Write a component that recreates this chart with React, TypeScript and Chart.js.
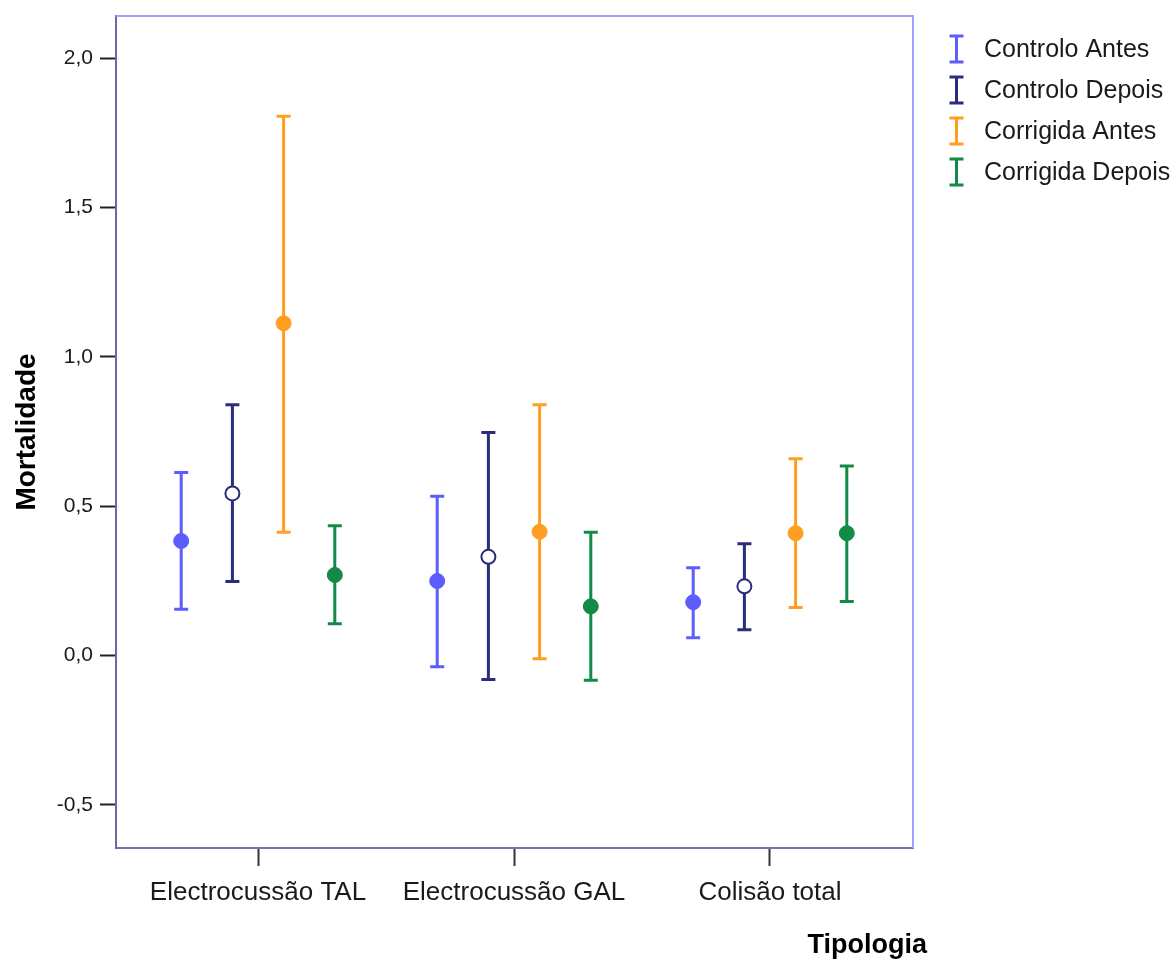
import { useEffect, useRef } from 'react';
import { Chart, registerables } from 'chart.js';

Chart.register(...registerables);

// Categories on the horizontal axis
const categories = ['Electrocussão TAL', 'Electrocussão GAL', 'Colisão total'];

// Series names and colours
const seriesNames = ['Controlo Antes', 'Controlo Depois', 'Corrigida Antes', 'Corrigida Depois'];
const seriesColors = ['#5c5cff', '#2c2c7c', '#ff9e20', '#138a45'];

// Means and 95% CI bounds per category
const controloAntesMean = [0.384, 0.25, 0.179];
const controloAntesLow = [0.155, -0.037, 0.06];
const controloAntesHigh = [0.613, 0.534, 0.294];

const controloDepoisMean = [0.543, 0.331, 0.232];
const controloDepoisLow = [0.248, -0.08, 0.087];
const controloDepoisHigh = [0.84, 0.747, 0.375];

const corrigidaAntesMean = [1.113, 0.415, 0.41];
const corrigidaAntesLow = [0.413, -0.01, 0.161];
const corrigidaAntesHigh = [1.806, 0.84, 0.659];

const corrigidaDepoisMean = [0.27, 0.165, 0.41];
const corrigidaDepoisLow = [0.107, -0.082, 0.181];
const corrigidaDepoisHigh = [0.435, 0.413, 0.635];

// Horizontal offset of each series inside a category cluster
const seriesOffsets = [-0.3, -0.1, 0.1, 0.3];

// Value axis ticks
const yTicks = [-0.5, 0, 0.5, 1, 1.5, 2];

const FONT = "'Liberation Sans', Arial, Helvetica, sans-serif";

const means = [controloAntesMean, controloDepoisMean, corrigidaAntesMean, corrigidaDepoisMean];
const lows = [controloAntesLow, controloDepoisLow, corrigidaAntesLow, corrigidaDepoisLow];
const highs = [controloAntesHigh, controloDepoisHigh, corrigidaAntesHigh, corrigidaDepoisHigh];

const errorBarPlugin = {
  id: 'errorBars',
  beforeDatasetsDraw(chart: any) {
    const { ctx, scales } = chart;
    const xs = scales.x;
    const ys = scales.y;
    ctx.save();
    chart.data.datasets.forEach((ds: any) => {
      ctx.strokeStyle = ds.borderColor;
      ctx.lineWidth = 3;
      ctx.lineCap = 'butt';
      ds.data.forEach((p: any) => {
        const px = xs.getPixelForValue(p.x);
        const yl = ys.getPixelForValue(p.lo);
        const yh = ys.getPixelForValue(p.hi);
        ctx.beginPath();
        ctx.moveTo(px, yl);
        ctx.lineTo(px, yh);
        ctx.moveTo(px - 7, yl);
        ctx.lineTo(px + 7, yl);
        ctx.moveTo(px - 7, yh);
        ctx.lineTo(px + 7, yh);
        ctx.stroke();
      });
    });
    ctx.restore();
  },
};

const framePlugin = {
  id: 'frameAndLegend',
  afterDraw(chart: any) {
    const { ctx, chartArea } = chart;
    ctx.save();
    // top and right edges of the plot frame
    ctx.strokeStyle = '#a0a0ff';
    ctx.lineWidth = 2;
    ctx.beginPath();
    ctx.moveTo(chartArea.left, chartArea.top);
    ctx.lineTo(chartArea.right, chartArea.top);
    ctx.lineTo(chartArea.right, chartArea.bottom);
    ctx.stroke();

    // legend with error-bar icons
    const iconX = 956.5;
    const textX = 984;
    seriesNames.forEach((name, i) => {
      const cy = 49 + i * 41;
      ctx.strokeStyle = seriesColors[i];
      ctx.lineWidth = 3;
      ctx.beginPath();
      ctx.moveTo(iconX, cy - 13);
      ctx.lineTo(iconX, cy + 13);
      ctx.moveTo(iconX - 7, cy - 13);
      ctx.lineTo(iconX + 7, cy - 13);
      ctx.moveTo(iconX - 7, cy + 13);
      ctx.lineTo(iconX + 7, cy + 13);
      ctx.stroke();
      ctx.fillStyle = '#1a1a1a';
      ctx.font = `25px ${FONT}`;
      ctx.textAlign = 'left';
      ctx.textBaseline = 'middle';
      ctx.fillText(name, textX, cy + 1);
    });

    // horizontal axis title
    ctx.fillStyle = '#000';
    ctx.font = `bold 27px ${FONT}`;
    ctx.textAlign = 'right';
    ctx.textBaseline = 'alphabetic';
    ctx.fillText('Tipologia', 927, 953);
    ctx.restore();
  },
};

export default function App() {
  const canvasRef = useRef<HTMLCanvasElement | null>(null);

  useEffect(() => {
    if (!canvasRef.current) return;
    const datasets = seriesNames.map((name, i) => {
      const hollow = i === 1;
      return {
        label: name,
        data: categories.map((_, c) => ({
          x: c + 1 + seriesOffsets[i],
          y: means[i][c],
          lo: lows[i][c],
          hi: highs[i][c],
        })),
        borderColor: seriesColors[i],
        backgroundColor: hollow ? '#ffffff' : seriesColors[i],
        pointBackgroundColor: hollow ? '#ffffff' : seriesColors[i],
        pointBorderColor: seriesColors[i],
        pointBorderWidth: hollow ? 2 : 1,
        pointRadius: hollow ? 7 : 7.5,
        showLine: false,
      };
    });

    const chart = new Chart(canvasRef.current, {
      type: 'scatter',
      data: { datasets },
      options: {
        responsive: false,
        animation: false,
        events: [],
        layout: { padding: { left: 0, top: 16, right: 261, bottom: 0 } },
        plugins: {
          legend: { display: false },
          tooltip: { enabled: false },
        },
        scales: {
          x: {
            type: 'linear',
            min: 0.4453,
            max: 3.5586,
            afterBuildTicks: (scale: any) => {
              scale.ticks = categories.map((_, c) => ({ value: c + 1 }));
            },
            afterFit: (scale: any) => {
              scale.height = 114;
              scale.paddingLeft = 0;
              scale.paddingRight = 0;
            },
            ticks: {
              autoSkip: false,
              maxRotation: 0,
              padding: 11,
              color: '#1a1a1a',
              font: { family: FONT, size: 26 },
              callback: (v: any) => categories[Math.round(Number(v)) - 1] ?? '',
            },
            grid: {
              drawOnChartArea: false,
              drawTicks: true,
              tickLength: 18,
              tickColor: '#333333',
              tickWidth: 2,
            },
            border: { display: true, color: '#7474aa', width: 2 },
          },
          y: {
            type: 'linear',
            min: -0.644,
            max: 2.1416,
            afterBuildTicks: (scale: any) => {
              scale.ticks = yTicks.map((v) => ({ value: v }));
            },
            afterFit: (scale: any) => {
              scale.width = 116;
              scale.paddingTop = 0;
              scale.paddingBottom = 0;
            },
            ticks: {
              padding: 7,
              color: '#1a1a1a',
              font: { family: FONT, size: 21 },
              callback: (v: any) => Number(v).toFixed(1).replace('.', ','),
            },
            grid: {
              drawOnChartArea: false,
              drawTicks: true,
              tickLength: 16,
              tickColor: '#222222',
              tickWidth: 2,
            },
            border: { display: true, color: '#6a6aa0', width: 2 },
            title: {
              display: true,
              text: 'Mortalidade',
              color: '#000',
              font: { family: FONT, size: 28, weight: 'bold' },
              padding: { top: 10, bottom: 0 },
            },
          },
        },
      },
      plugins: [errorBarPlugin, framePlugin],
    } as any);

    return () => chart.destroy();
  }, []);

  return (
    <div style={{ position: 'fixed', left: 0, top: 0, width: 1174, height: 962, background: '#fff' }}>
      <canvas ref={canvasRef} width={1174} height={962} style={{ display: 'block' }} />
    </div>
  );
}
